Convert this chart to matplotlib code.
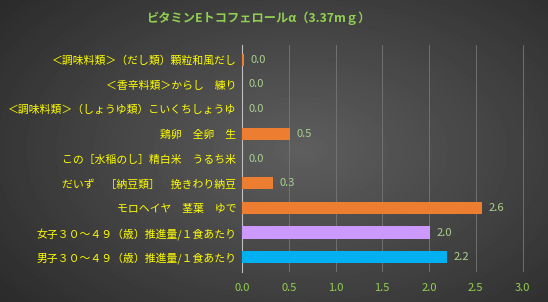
import numpy as np
import matplotlib
matplotlib.use('Agg')
import matplotlib.pyplot as plt

plt.rcParams['font.family'] = ['Noto Sans CJK JP', 'DejaVu Sans']

title = 'ビタミンEトコフェロールα（3.37mｇ）'
labels = ['＜調味料類＞（だし類）顆粒和風だし',
          '＜香辛料類＞からし　練り',
          '＜調味料類＞（しょうゆ類）こいくちしょうゆ',
          '鶏卵　全卵　生',
          'この［水稲のし］精白米　うるち米',
          'だいず　［納豆類］　挽きわり納豆',
          'モロヘイヤ　茎葉　ゆで',
          '女子３０～４９（歳）推進量/１食あたり',
          '男子３０～４９（歳）推進量/１食あたり']
values = [0.02, 0.0, 0.0, 0.51, 0.0, 0.33, 2.57, 2.01, 2.19]
colors = ['#ed7d31'] * 7 + ['#cc99ff', '#00b0f0']

fig = plt.figure(figsize=(5.48, 3.02), dpi=100)

# background gradient
bg = fig.add_axes([0, 0, 1, 1])
yy, xx = np.mgrid[0:302, 0:548]
r = np.sqrt(((xx - 300) / 420.0) ** 2 + ((yy - 150) / 260.0) ** 2)
shade = np.clip(0.37 - 0.22 * r, 0.12, 0.4)
bg.imshow(shade, cmap='gray', vmin=0, vmax=1, aspect='auto')
bg.axis('off')

ax = fig.add_axes([242 / 548, 1 - 272 / 302, (530 - 242) / 548, (272 - 45) / 302])
ax.patch.set_alpha(0)
y = np.arange(len(labels))[::-1]
ax.barh(y, values, height=0.5, color=colors, zorder=3)
for yi, v in zip(y, values):
    ax.text(v + 0.07, yi, '%.1f' % v, va='center', ha='left', fontsize=8,
            color='#a9d18e', zorder=4)

ax.set_xlim(0, 3.08)
ax.set_ylim(-0.6, len(labels) - 0.4)
ax.set_xticks(np.arange(0, 3.01, 0.5))
ax.set_xticklabels(['%.1f' % t for t in np.arange(0, 3.01, 0.5)])
ax.set_yticks(y)
ax.set_yticklabels(labels)
ax.tick_params(axis='y', length=0, pad=4, labelsize=7.8, labelcolor='#ffff00')
ax.tick_params(axis='x', length=0, pad=8, labelsize=8, labelcolor='#92d050')
ax.grid(axis='x', color='#777777', linewidth=0.6, zorder=0)
for s in ['top', 'right', 'bottom']:
    ax.spines[s].set_visible(False)
ax.spines['left'].set_color('#bfbfbf')
ax.spines['left'].set_linewidth(0.8)

fig.text(258 / 548, 1 - 18 / 302, title, ha='center', va='center', fontsize=8.8,
         color='#92d050', fontweight='bold')

fig.savefig('out.png', dpi=100)
